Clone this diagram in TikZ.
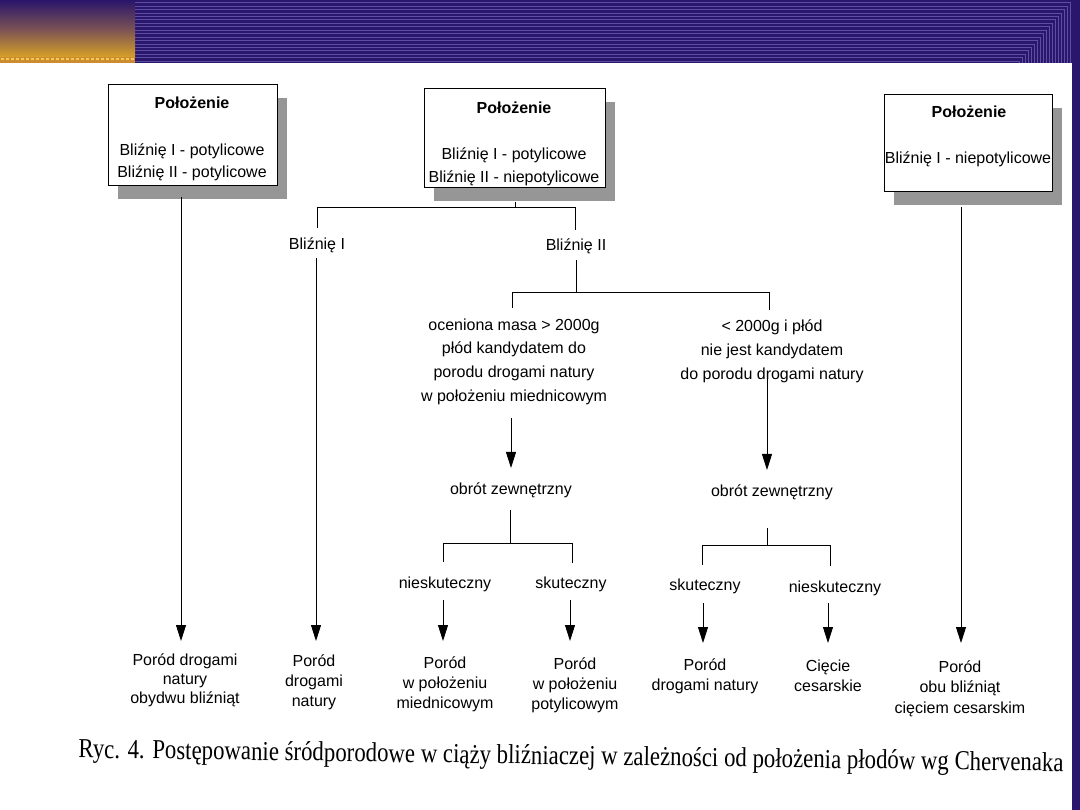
\documentclass[tikz,border=0pt]{standalone}
\usepackage{fontspec}
\usepackage{graphicx}
\setmainfont{Liberation Sans}
\newfontfamily\capfont{Liberation Serif}
\usetikzlibrary{arrows.meta,shadows}
\definecolor{hdr}{RGB}{42,22,106}
\definecolor{hdrline}{RGB}{92,78,165}
\definecolor{gold}{RGB}{214,160,40}
\definecolor{midbrown}{RGB}{120,80,85}
\definecolor{strip}{RGB}{205,140,45}
\definecolor{speck}{RGB}{245,200,90}
\definecolor{shadowgray}{RGB}{150,150,150}
\begin{document}
\begin{tikzpicture}[x=1pt,y=-1pt,
  txt/.style={font=\fontsize{16}{22}\selectfont, align=center, inner sep=0pt, anchor=north},
  ttl/.style={txt, font=\fontsize{16}{22}\selectfont\bfseries},
  box/.style={draw, line width=1pt, fill=white, inner sep=0pt,
    drop shadow={shadow xshift=10pt, shadow yshift=-13pt, fill=shadowgray, opacity=1}},
  ln/.style={line width=0.9pt},
  arr/.style={ln, -{Triangle[length=16pt,width=10pt]}}]
\useasboundingbox (0,0) rectangle (1080,810);
\fill[white] (0,0) rectangle (1080,810);
% header
\fill[hdr] (0,0) rectangle (1080,63);
\fill[hdr] (1072,0) rectangle (1080,810);
\shade[top color=hdr, bottom color=gold, middle color=midbrown] (0,0) rectangle (135,57);
\fill[strip] (0,57) rectangle (135,63);
\foreach \k in {0,...,26}{
  \pgfmathsetmacro\sx{\k*5+1}
  \fill[speck] (\sx,58.5) rectangle ++(2.5,2);
}
\foreach \i in {0,...,17}{
  \pgfmathsetmacro\yy{2.5+\i*3.45}
  \pgfmathsetmacro\xx{1070-\i*3}
  \draw[hdrline, line width=0.6pt] (135,\yy) -- (\xx,\yy) -- (\xx,63);
}
% boxes
\node[box, minimum width=169pt, minimum height=101pt] (b1) at (192.5,135.5) {};
\node[ttl] (b1t) at (192,96.5) {Położenie};
\node[txt] (b1l) at (192,143.5) {Bliźnię I - potylicowe\\Bliźnię II - potylicowe};
\node[box, minimum width=181pt, minimum height=99pt] (b2) at (514.5,138.5) {};
\node[ttl] (b2t) at (514,101.5) {Położenie};
\node[txt, font=\fontsize{16}{23}\selectfont] (b2l) at (514,147.5) {Bliźnię I - potylicowe\\Bliźnię II - niepotylicowe};
\node[box, minimum width=168pt, minimum height=97pt] (b3) at (968,143.5) {};
\node[ttl] (b3t) at (969,105.5) {Położenie};
\node[txt] (b3l) at (968,151.5) {Bliźnię I - niepotylicowe};
% labels
\node[txt] (tw1) at (317,237.5) {Bliźnię I};
\node[txt] (tw2) at (576,238.5) {Bliźnię II};
\node[txt, font=\fontsize{16}{23.7}\selectfont] (m1) at (514,318.5) {oceniona masa > 2000g\\płód kandydatem do\\porodu drogami natury\\w położeniu miednicowym};
\node[txt, font=\fontsize{16}{24}\selectfont] (m2) at (772,319.5) {< 2000g i płód\\nie jest kandydatem\\do porodu drogami natury};
\node[txt] (o1) at (511,482.5) {obrót zewnętrzny};
\node[txt] (o2) at (772,484.5) {obrót zewnętrzny};
\node[txt] (n1) at (445,576.5) {nieskuteczny};
\node[txt] (s1) at (571,576.5) {skuteczny};
\node[txt] (s2) at (705,578.5) {skuteczny};
\node[txt] (n2) at (835,580.5) {nieskuteczny};
% final results
\node[txt, font=\fontsize{16}{19}\selectfont] (f1) at (185,653.5) {Poród drogami\\natury\\obydwu bliźniąt};
\node[txt, font=\fontsize{16}{20}\selectfont] (f2) at (314,654.5) {Poród\\drogami\\natury};
\node[txt, font=\fontsize{16}{20}\selectfont] (f3) at (445,656.5) {Poród\\w położeniu\\miednicowym};
\node[txt, font=\fontsize{16}{20}\selectfont] (f4) at (575,657.5) {Poród\\w położeniu\\potylicowym};
\node[txt, font=\fontsize{16}{20}\selectfont] (f5) at (705,658.5) {Poród\\drogami natury};
\node[txt, font=\fontsize{16}{20}\selectfont] (f6) at (828,659.5) {Cięcie\\cesarskie};
\node[txt, font=\fontsize{16}{20.5}\selectfont] (f7) at (960,660.5) {Poród\\obu bliźniąt\\cięciem cesarskim};
% connector points
\coordinate (c1a) at (181,197);  \coordinate (c1b) at (181,641);
\coordinate (c2a) at (515,202);  \coordinate (c2j) at (515,207);
\coordinate (c2l) at (317,228);  \coordinate (c2r) at (575,230);
\coordinate (c3a) at (316,258);  \coordinate (c3b) at (316,641);
\coordinate (c4a) at (576,260);  \coordinate (c4j) at (576,292);
\coordinate (c4l) at (512,308);  \coordinate (c4r) at (769,310);
\coordinate (c5a) at (511,418);  \coordinate (c5b) at (511,468);
\coordinate (c6a) at (767,378);  \coordinate (c6b) at (767,470);
\coordinate (c7a) at (510,510);  \coordinate (c7j) at (510,543);
\coordinate (c7l) at (443,562);  \coordinate (c7r) at (572,563);
\coordinate (c8a) at (767,528);  \coordinate (c8j) at (767,545);
\coordinate (c8l) at (702,565);  \coordinate (c8r) at (830,566);
\coordinate (c9a) at (443,600);  \coordinate (c9b) at (443,641);
\coordinate (c10a) at (570,600); \coordinate (c10b) at (570,641);
\coordinate (c11a) at (703,603); \coordinate (c11b) at (703,643);
\coordinate (c12a) at (828,603); \coordinate (c12b) at (828,643);
\coordinate (c13a) at (961,207); \coordinate (c13b) at (961,643);
% connectors
\draw[arr] (c1a) -- (c1b);
\draw[ln] (c2a) -- (c2j);
\draw[ln] (c2l) -- (c2l |- c2j) -- (c2r |- c2j) -- (c2r);
\draw[arr] (c3a) -- (c3b);
\draw[ln] (c4a) -- (c4j);
\draw[ln] (c4l) -- (c4l |- c4j) -- (c4r |- c4j) -- (c4r);
\draw[arr] (c5a) -- (c5b);
\draw[arr] (c6a) -- (c6b);
\draw[ln] (c7a) -- (c7j);
\draw[ln] (c7l) -- (c7l |- c7j) -- (c7r |- c7j) -- (c7r);
\draw[ln] (c8a) -- (c8j);
\draw[ln] (c8l) -- (c8l |- c8j) -- (c8r |- c8j) -- (c8r);
\draw[arr] (c9a) -- (c9b);
\draw[arr] (c10a) -- (c10b);
\draw[arr] (c11a) -- (c11b);
\draw[arr] (c12a) -- (c12b);
\draw[arr] (c13a) -- (c13b);
% caption
\node[font=\capfont\fontsize{23}{23}\selectfont, rotate=-0.8, inner sep=0pt] (cap) at (571,758)
  {\scalebox{1}[1.2]{\resizebox{985pt}{!}{Ryc. 4. Postępowanie śródporodowe w ciąży bliźniaczej w zależności od położenia płodów wg Chervenaka}}};
\end{tikzpicture}
\end{document}
